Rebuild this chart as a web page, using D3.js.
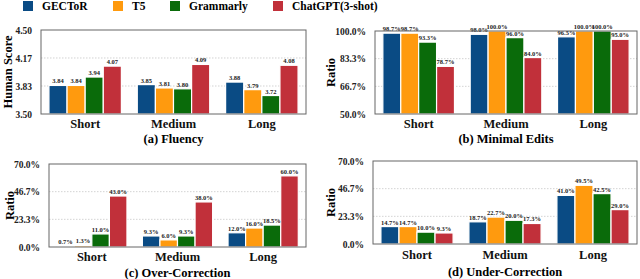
<!DOCTYPE html>
<html>
<head>
<meta charset="utf-8">
<script src="https://cdn.jsdelivr.net/npm/d3@7"></script>
<style>
  body { margin: 0; background: #fff; }
</style>
</head>
<body>
<svg id="chart" width="640" height="279"></svg>
<script>
// data
const models = ["GECToR", "T5", "Grammarly", "ChatGPT(3-shot)"];
const colors = ["#0a4b84", "#ff9a0e", "#0a6b0a", "#c1303a"];
const lengths = ["Short", "Medium", "Long"];

const fluency = [[3.84, 3.84, 3.94, 4.07], [3.85, 3.81, 3.80, 4.09], [3.88, 3.79, 3.72, 4.08]];
const minimalEdits = [[98.7, 98.7, 93.3, 78.7], [98.0, 100.0, 96.0, 84.0], [96.5, 100.0, 100.0, 95.0]];
const overCorrection = [[0.7, 1.3, 11.0, 43.0], [9.3, 6.0, 9.3, 38.0], [12.0, 16.0, 18.5, 60.0]];
const underCorrection = [[14.7, 14.7, 10.0, 9.3], [18.7, 22.7, 20.0, 17.3], [41.0, 49.5, 42.5, 29.0]];

const fluencyTicks = [3.50, 3.8333, 4.1667, 4.50];
const editTicks = [50, 66.667, 83.333, 100];
const corrTicks = [0, 23.333, 46.667, 70];

const FONT = "Liberation Serif";
const svg = d3.select("#chart");

const txt = (sel) => sel.attr("font-family", FONT).attr("font-weight", "bold");

// legend
const legend = svg.append("g");
const legendX = [23, 113, 170, 273];
models.forEach((m, i) => {
  legend.append("rect")
    .attr("x", legendX[i]).attr("y", 1)
    .attr("width", 10).attr("height", 10)
    .attr("fill", colors[i]);
  legend.append("text")
    .attr("x", legendX[i] + 19).attr("y", 10)
    .attr("font-size", 11.5)
    .call(txt)
    .text(m);
});

const panels = [
  { data: fluency, ticks: fluencyTicks, domain: [3.5, 4.5], fmt: d => d.toFixed(2), vfmt: d => d.toFixed(2),
    ylabel: "Human Score", title: "(a) Fluency", box: { l: 41, r: 306, t: 30, b: 114 }, ylx: 8, catY: 129, titleY: 143 },
  { data: minimalEdits, ticks: editTicks, domain: [50, 100], fmt: d => d.toFixed(1) + "%", vfmt: d => d.toFixed(1) + "%",
    ylabel: "Ratio", title: "(b) Minimal Edits", box: { l: 375, r: 637, t: 31, b: 114 }, ylx: 331, catY: 129, titleY: 143 },
  { data: overCorrection, ticks: corrTicks, domain: [0, 70], fmt: d => d.toFixed(1) + "%", vfmt: d => d.toFixed(1) + "%",
    ylabel: "Ratio", title: "(c) Over-Correction", box: { l: 49, r: 306, t: 164, b: 247 }, ylx: 10, catY: 262, titleY: 277 },
  { data: underCorrection, ticks: corrTicks, domain: [0, 70], fmt: d => d.toFixed(1) + "%", vfmt: d => d.toFixed(1) + "%",
    ylabel: "Ratio", title: "(d) Under-Correction", box: { l: 373, r: 637, t: 161, b: 244 }, ylx: 331, catY: 260, titleY: 276 }
];

panels.forEach(p => {
  const { l, r, t, b } = p.box;
  const g = svg.append("g");

  const x0 = d3.scaleBand().domain(lengths).range([l, r]).paddingInner(0.18).paddingOuter(0.09);
  const x1 = d3.scaleBand().domain(d3.range(models.length)).range([0, x0.bandwidth()]);
  const y = d3.scaleLinear().domain(p.domain).range([b, t]);

  // grid
  g.append("g")
    .selectAll("line")
    .data(p.ticks.slice(1, -1))
    .join("line")
    .attr("x1", l).attr("x2", r)
    .attr("y1", d => y(d)).attr("y2", d => y(d))
    .attr("stroke", "#c8c8c8").attr("stroke-width", 0.8)
    .attr("stroke-dasharray", "1.5,1.5");

  // bars
  lengths.forEach((cat, ci) => {
    const grp = g.append("g").attr("transform", `translate(${x0(cat)},0)`);
    grp.selectAll("rect")
      .data(p.data[ci])
      .join("rect")
      .attr("x", (d, i) => x1(i))
      .attr("y", d => y(d))
      .attr("width", x1.bandwidth())
      .attr("height", d => b - y(d))
      .attr("fill", (d, i) => colors[i])
      .attr("stroke", "#fff").attr("stroke-width", 1.2);
    grp.selectAll("text")
      .data(p.data[ci])
      .join("text")
      .attr("x", (d, i) => x1(i) + x1.bandwidth() / 2)
      .attr("y", d => y(d) - 2)
      .attr("text-anchor", "middle")
      .attr("font-size", 6.5)
      .attr("fill", "#222")
      .call(txt)
      .text(p.vfmt);
  });

  // frame
  g.append("rect")
    .attr("x", l).attr("y", t)
    .attr("width", r - l).attr("height", b - t)
    .attr("fill", "none").attr("stroke", "#666").attr("stroke-width", 1);

  // y axis
  const yAxis = d3.axisLeft(y).tickValues(p.ticks).tickFormat(p.fmt).tickSize(0).tickPadding(9);
  const ya = g.append("g").attr("transform", `translate(${l},0)`).call(yAxis);
  ya.select(".domain").remove();
  ya.selectAll("text")
    .attr("font-size", 9.5)
    .attr("fill", "#222")
    .call(txt);

  // x axis categories
  const xAxis = d3.axisBottom(x0).tickSize(0).tickPadding(0);
  const xa = g.append("g").attr("transform", `translate(0,${p.catY - 10})`).call(xAxis);
  xa.select(".domain").remove();
  xa.selectAll("text")
    .attr("font-size", 12.5)
    .attr("fill", "#111")
    .call(txt);

  // labels
  g.append("text")
    .attr("transform", `translate(${p.ylx},${(t + b) / 2}) rotate(-90)`)
    .attr("text-anchor", "middle")
    .attr("dy", "0.35em")
    .attr("font-size", 12.5)
    .call(txt)
    .text(p.ylabel);
  g.append("text")
    .attr("x", (l + r) / 2)
    .attr("y", p.titleY)
    .attr("text-anchor", "middle")
    .attr("font-size", 12.5)
    .call(txt)
    .text(p.title);
});
</script>
</body>
</html>
